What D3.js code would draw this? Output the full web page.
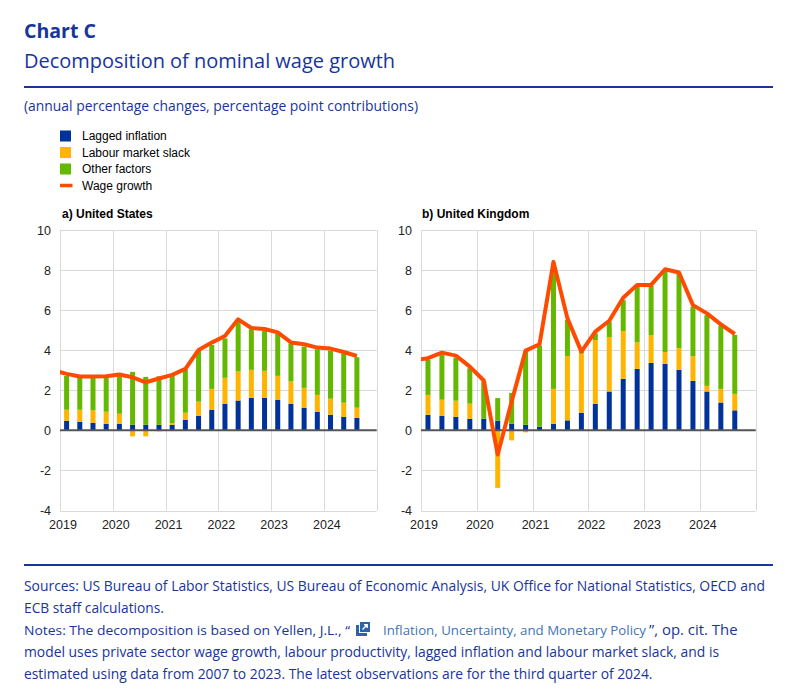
<!DOCTYPE html>
<html><head><meta charset="utf-8">
<script src="https://cdn.jsdelivr.net/npm/d3@7"></script>
<style>body{margin:0;background:#fff}svg{display:block}</style>
</head><body>
<svg id="chart" width="790" height="693"></svg>
<script>
// ---------- DATA ----------
const quarters = ["2019Q1","2019Q2","2019Q3","2019Q4","2020Q1","2020Q2","2020Q3","2020Q4",
  "2021Q1","2021Q2","2021Q3","2021Q4","2022Q1","2022Q2","2022Q3","2022Q4",
  "2023Q1","2023Q2","2023Q3","2023Q4","2024Q1","2024Q2","2024Q3"];
const lineQuarters = ["2018Q4", ...quarters];

const usInflation = [0.48,0.43,0.38,0.33,0.33,0.28,0.28,0.28,0.28,0.53,0.73,1.03,1.33,1.49,1.63,1.63,1.53,1.33,1.13,0.93,0.78,0.68,0.63];
const usSlack     = [0.55,0.60,0.62,0.60,0.50,-0.30,-0.30,-0.05,0.08,0.35,0.70,1.04,1.29,1.45,1.39,1.34,1.19,1.11,0.99,0.84,0.80,0.70,0.50];
const usOther     = [1.69,1.62,1.65,1.72,1.89,2.64,2.39,2.42,2.41,2.17,2.53,2.19,1.97,2.53,2.02,2.01,2.09,1.90,2.06,2.28,2.40,2.47,2.52];
const usWage      = [3.00,2.82,2.69,2.69,2.70,2.79,2.65,2.40,2.59,2.77,3.07,4.01,4.38,4.71,5.54,5.11,5.06,4.89,4.39,4.30,4.13,4.08,3.91,3.71];

const ukInflation = [0.78,0.73,0.68,0.58,0.58,0.48,0.33,0.28,0.18,0.33,0.50,0.88,1.33,1.94,2.57,3.07,3.37,3.32,3.02,2.47,1.94,1.39,1.00];
const ukSlack     = [0.99,0.80,0.80,0.75,0.00,-2.87,-0.50,-0.10,0.00,1.74,3.21,2.97,3.18,2.72,2.39,1.32,1.39,0.59,1.08,1.24,0.28,0.68,0.82];
const ukOther     = [1.76,2.27,2.15,1.77,1.86,1.13,1.54,3.67,4.05,6.28,1.80,0.08,0.33,0.76,1.54,2.82,2.45,4.08,3.73,2.46,3.53,3.15,2.94];
const ukWage      = [3.50,3.60,3.88,3.73,3.18,2.49,-1.21,1.44,3.98,4.30,8.41,5.59,3.93,4.93,5.47,6.62,7.26,7.26,8.04,7.88,6.25,5.84,5.29,4.81];

const yTicks = [-4,-2,0,2,4,6,8,10];
const yearTicks = [2019,2020,2021,2022,2023,2024];
const yearGrid = [2019,2020,2021,2022,2023,2024,2025];
const seriesKeys = ["inflation","slack","other"];
const seriesNames = ["Lagged inflation","Labour market slack","Other factors","Wage growth"];
const panelTitles = ["a) United States","b) United Kingdom"];

// ---------- STYLE ----------
const colors = {inflation:"#003299", slack:"#ffb400", other:"#65b800", wage:"#ff4b00"};
const navy = "#17359a";
const svg = d3.select("#chart");
svg.append("rect").attr("width",790).attr("height",693).attr("fill","#fff");

// ---------- HEADER ----------
svg.append("text").attr("x",24).attr("y",37.5).text("Chart C")
  .attr("font-family","'Open Sans'").attr("font-weight","bold").attr("font-size",20)
  .attr("fill",navy).attr("textLength",72).attr("lengthAdjust","spacingAndGlyphs");
svg.append("text").attr("x",24).attr("y",68).text("Decomposition of nominal wage growth")
  .attr("font-family","'Open Sans'").attr("font-size",20).attr("fill",navy)
  .attr("textLength",371).attr("lengthAdjust","spacingAndGlyphs");
svg.append("rect").attr("x",24).attr("y",86).attr("width",749).attr("height",2).attr("fill",navy);
svg.append("text").attr("x",24).attr("y",110.5)
  .text("(annual percentage changes, percentage point contributions)")
  .attr("font-family","'Open Sans'").attr("font-size",14).attr("fill",navy)
  .attr("textLength",394).attr("lengthAdjust","spacingAndGlyphs");

// ---------- LEGEND ----------
const legendY = [136,152.5,169,185.5];
seriesNames.forEach((name,i)=>{
  const key = i<3 ? seriesKeys[i] : "wage";
  if (i<3) svg.append("rect").attr("x",60).attr("y",legendY[i]-5.5).attr("width",11).attr("height",11).attr("fill",colors[key]);
  else svg.append("rect").attr("x",60).attr("y",legendY[i]-1.75).attr("width",12.5).attr("height",3.5).attr("fill",colors[key]);
  svg.append("text").attr("x",82).attr("y",legendY[i]).attr("dy","0.35em").text(name)
    .attr("font-family","'Liberation Sans', Arial").attr("font-size",12).attr("fill","#000");
});

// ---------- PANELS ----------
function qx(q){ const [yr,qq] = q.split("Q").map(Number); return yr + (qq-0.5)/4; }

function drawPanel(cfg, idx){
  const x = d3.scaleLinear().domain([2019,2025]).range([cfg.left,cfg.right]);
  const y = d3.scaleLinear().domain([-4,10]).range([510.5,230]);
  const g = svg.append("g");
  const clipId = "clip"+idx;
  svg.append("clipPath").attr("id",clipId).append("rect")
    .attr("x",cfg.left).attr("y",225).attr("width",cfg.right-cfg.left).attr("height",290);

  // gridlines
  g.selectAll(".hg").data(yTicks).join("line")
    .attr("x1",cfg.left).attr("x2",cfg.right).attr("y1",d=>Math.round(y(d))+0.5).attr("y2",d=>Math.round(y(d))+0.5)
    .attr("stroke","#d9d9d9").attr("stroke-width",1);
  g.selectAll(".vg").data(yearGrid).join("line")
    .attr("x1",d=>Math.round(x(d))+0.5).attr("x2",d=>Math.round(x(d))+0.5).attr("y1",y(10)).attr("y2",y(-4))
    .attr("stroke","#d9d9d9").attr("stroke-width",1);

  // y labels
  g.selectAll(".yl").data(yTicks).join("text")
    .attr("x",cfg.left-9).attr("y",d=>y(d)).attr("dy","0.36em").attr("text-anchor","end")
    .text(d=>d).attr("font-family","'Liberation Sans', Arial").attr("font-size",12.5).attr("fill","#222");
  // x labels
  g.selectAll(".xl").data(yearTicks).join("text")
    .attr("x",d=>x(d)+3).attr("y",529).attr("text-anchor","middle")
    .text(d=>d).attr("font-family","'Liberation Sans', Arial").attr("font-size",12.5).attr("fill","#222");
  // title
  g.append("text").attr("x",cfg.left+2-(idx?1:0)).attr("y",218).text(panelTitles[idx])
    .attr("font-family","'Liberation Sans', Arial").attr("font-weight","bold").attr("font-size",12).attr("fill","#000");

  // stacked bars
  const rows = quarters.map((q,i)=>({q, inflation:cfg.inflation[i], slack:cfg.slack[i], other:cfg.other[i]}));
  const stack = d3.stack().keys(seriesKeys).offset(d3.stackOffsetDiverging)(rows);
  const bw = 5;
  stack.forEach(s=>{
    g.selectAll(null).data(s).join("rect")
      .attr("x",d=>x(qx(d.data.q))-bw/2).attr("width",bw)
      .attr("y",d=>y(Math.max(d[0],d[1])))
      .attr("height",d=>Math.abs(y(d[0])-y(d[1])))
      .attr("fill",colors[s.key]);
  });

  // zero line
  g.append("line").attr("x1",cfg.left).attr("x2",cfg.right).attr("y1",y(0)).attr("y2",y(0))
    .attr("stroke","#555").attr("stroke-width",2);

  // wage line
  const lineData = lineQuarters.map((q,i)=>({q, v:cfg.wage[i]}));
  g.append("path").datum(lineData).attr("clip-path",`url(#${clipId})`)
    .attr("d",d3.line().x(d=>x(qx(d.q))).y(d=>y(d.v)))
    .attr("fill","none").attr("stroke",colors.wage).attr("stroke-width",4)
    .attr("stroke-linejoin","round");
}

drawPanel({left:60,right:376.7,inflation:usInflation,slack:usSlack,other:usOther,wage:usWage},0);
drawPanel({left:421,right:755.7,inflation:ukInflation,slack:ukSlack,other:ukOther,wage:ukWage},1);

// ---------- FOOTER ----------
svg.append("rect").attr("x",24).attr("y",564).attr("width",749).attr("height",2).attr("fill",navy);
const ff = "'Open Sans'";
function ftext(t,x,yb,len,col,fs){
  svg.append("text").attr("x",x).attr("y",yb).text(t).attr("font-family",ff).attr("font-size",fs||14)
    .attr("fill",col||navy).attr("textLength",len).attr("lengthAdjust","spacingAndGlyphs");
}
ftext("Sources: US Bureau of Labor Statistics, US Bureau of Economic Analysis, UK Office for National Statistics, OECD and",24,591,741);
ftext("ECB staff calculations.",24,613,140);
ftext("Notes: The decomposition is based on Yellen, J.L., \u201C",24,635,326,navy,13.4);
ftext("Inflation, Uncertainty, and Monetary Policy",383,635,263,"#3f74b3",12.8);
ftext("\u201D, op. cit. The",649,635,88.5,navy,13.6);
// link icon
const ic = svg.append("g").attr("transform","translate(356,622)");
ic.append("path").attr("d","M0,3 H3 V11 H11 V14 H0 Z").attr("fill","#2a64ad");
ic.append("rect").attr("x",4).attr("y",0).attr("width",10).attr("height",10).attr("fill","#2a64ad");
ic.append("path").attr("d","M6.5,7.5 L11,3 M8,2.8 H11.2 V6").attr("stroke","#fff").attr("stroke-width",1.4).attr("fill","none");
ftext("model uses private sector wage growth, labour productivity, lagged inflation and labour market slack, and is",24,657,695);
ftext("estimated using data from 2007 to 2023. The latest observations are for the third quarter of 2024.",24,679,628.5);
</script>
</body></html>
